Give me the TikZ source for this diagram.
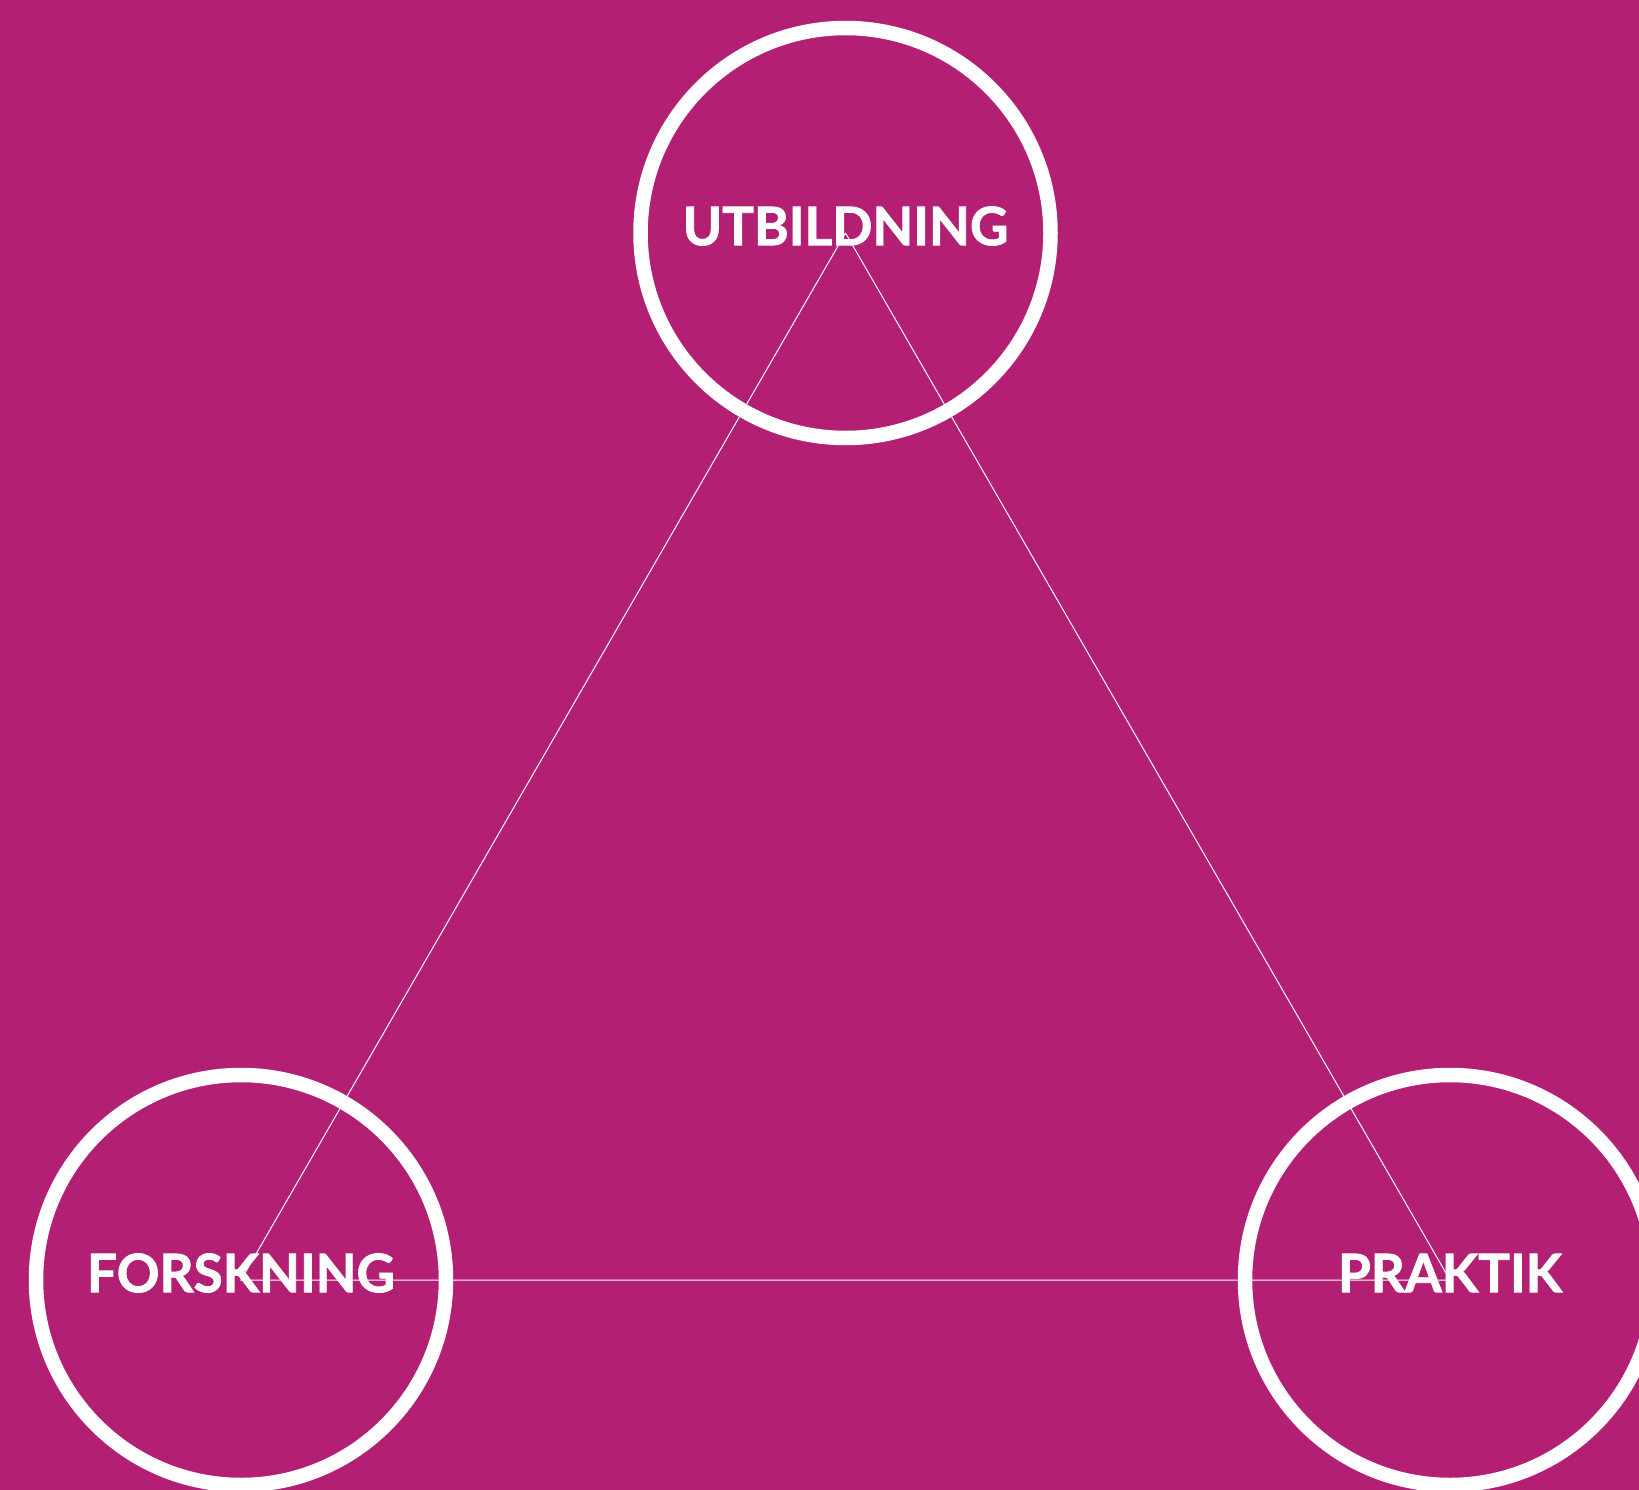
\documentclass[tikz,border=0pt]{standalone}
\usepackage{fontspec}
\setmainfont{Lato}[BoldFeatures={FakeBold=1.6}]
\usetikzlibrary{positioning,calc}
\definecolor{plum}{RGB}{179,31,114}

\begin{document}
\begin{tikzpicture}[x=1pt, y=-1pt,
    ring/.style={draw=white, circle, line width=14.5pt, minimum size=410pt, inner sep=0},
    word/.style={text=white, font=\fontsize{53}{53}\selectfont\bfseries, inner sep=0},
    link/.style={draw=white, line width=1pt}]
  \clip (0,0) rectangle (1639,1490);
  \fill[plum] (0,0) rectangle (1639,1490);
  % the three rings
  \node[ring] (utbildning) at (845.5,233) {};
  \node[ring] (forskning) at (241,1280) {};
  \node[ring] (praktik) at (1450,1280) {};
  % links between the centres
  \draw[link] (utbildning.center) -- (forskning.center) -- (praktik.center) -- (utbildning.center);
  % labels
  \node[word] (utbildning-text) at ([yshift=7pt]utbildning.center) {UTBILDNING};
  \node[word] (forskning-text) at ([yshift=7pt]forskning.center) {FORSKNING};
  \node[word] (praktik-text) at ([yshift=7pt]praktik.center) {PRAKTIK};
\end{tikzpicture}
\end{document}
